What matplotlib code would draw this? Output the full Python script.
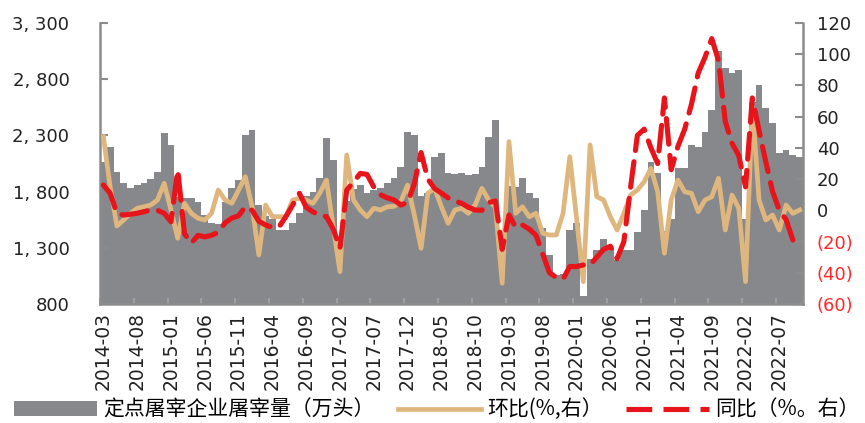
import numpy as np
import pandas as pd
import matplotlib
matplotlib.use('Agg')
import matplotlib.pyplot as plt
from matplotlib.lines import Line2D
from matplotlib.patches import Patch

plt.rcParams['font.family'] = ['DejaVu Sans', 'Noto Sans CJK SC']

# ---- data ----
months = pd.period_range('2014-03', periods=104, freq='M').strftime('%Y-%m').tolist()

# 定点屠宰企业屠宰量（万头）
volume = [2066, 2200, 1977, 1879, 1835, 1855, 1874, 1912, 1977, 2324,
          2215, 1750, 1743, 1740, 1710, 1592, 1520, 1510, 1710, 1830,
          1903, 2304, 2348, 1681, 1580, 1555, 1460, 1458, 1520, 1610,
          1757, 1799, 1918, 2277, 2081, 1280, 1720, 1820, 1859, 1788,
          1810, 1829, 1874, 1918, 2022, 2333, 2304, 1757, 1790, 2110,
          2140, 1968, 1960, 1968, 1948, 1960, 2022, 2289, 2437, 1320,
          1850, 1844, 1918, 1788, 1743, 1480, 1236, 1058, 1070, 1458,
          1518, 870, 1200, 1280, 1375, 1300, 1190, 1280, 1280, 1443,
          1636, 2066, 1963, 1450, 1560, 2007, 2010, 2215, 2200, 2333,
          2526, 3050, 2897, 2853, 2880, 1560, 2600, 2748, 2541, 2408,
          2140, 2170, 2126, 2110]

# 环比（%，右）
mom = [47.2, 15, -10, -6.2, -1.9, 1.3, 2.3, 3.4, 6.6, 17.3,
       0.2, -17.9, 4.5, -1.9, -5.1, -6.2, -1.9, 13, 6.6, 4.5,
       13, 21.5, 2.3, -28.6, 3.4, -4.1, -4.1, -4.1, 6.6, 7.7,
       6.6, 4.5, 10.9, 19.4, -10.5, -39.3, 35.5, 6.6, 0.2, -4.1,
       1.3, 0.2, 2.3, 2.5, 5.5, 16.2, -3, -24.3, 10.9, 14.1,
       2.3, -8.3, 0.2, 1.3, -1.9, 3.4, 14.1, 6.6, 2, -46.7,
       44, -1.9, 2.3, -4.1, -1.9, -14.7, -15.8, -15.8, -2, 34.4,
       -5, -45.7, 41.9, 8.7, 6.6, -4.1, -12.6, -1.9, 9.8, 13,
       18.3, 26.9, 11.9, -27.5, 6.6, 19.4, 11.9, 10.9, -0.9, 6.6,
       8.7, 20.5, -12.6, 9.8, 1.3, -45.7, 66.4, 6.6, -6.2, -3,
       -12.6, 3.4, -1.9, 0.2]

# 同比（%，右）
yoy = [16.2, 10.9, -1.9, -3, -2.5, -1.9, -0.9, 0.2, 0, -1.9,
       -7.3, 25.8, -15, -21, -16, -17, -16, -14, -8, -5,
       -3.5, 2.3, 0, -7, -9.4, -11, -10.5, -4, 3.4, 10.9,
       2, -1, -3, -4, -12, -24.3, 13, 18, 23.7, 23,
       15, 10, 8, 6.6, 3.4, 5, 17, 37, 20, 14,
       11, 8, 6, 4.5, 2, 0.2, 0, 5, 6, -25,
       -3, -11, -9.4, -12, -16, -28, -40, -43, -44, -36,
       -36, -35, -35, -30, -25, -23, -31, -20, 15, 48,
       52, 40, 30, 72, 26, 41, 52, 68, 88, 98,
       110, 96, 57, 43, 35, 15, 72, 51, 31, 12,
       0, -6, -19, np.nan]

left_ticks = [800, 1300, 1800, 2300, 2800, 3300]
right_ticks = [-60, -40, -20, 0, 20, 40, 60, 80, 100, 120]

bar_color = '#86888b'
mom_color = '#dfb77e'
yoy_color = '#e8141b'
axis_color = '#8c8c8c'

x = np.arange(len(months))

fig = plt.figure(figsize=(8.65, 4.23), dpi=100)
ax = fig.add_axes([100 / 865, 1 - 304 / 423, 703 / 865, 281 / 423])

ax.bar(x, volume, width=1.0, color=bar_color, linewidth=0, zorder=1)
ax.set_xlim(-0.5, len(months) - 0.5)
ax.set_ylim(800, 3300)
ax.set_yticks(left_ticks)
ax.set_yticklabels([f'{v:,}'.replace(',', ', ') for v in left_ticks])
ax.tick_params(axis='y', direction='in', length=6, width=1.5, color=axis_color,
               labelsize=13, pad=22, labelcolor='#222222')

# x labels every 5 months, boundary tick marks
lab_pos = x[::5]
ax.set_xticks(lab_pos)
ax.set_xticklabels([months[i] for i in lab_pos], rotation=90, fontsize=13.5, color='#222222')
ax.set_xticks(lab_pos - 0.5, minor=True)
ax.tick_params(axis='x', which='major', length=0, pad=6)
ax.tick_params(axis='x', which='minor', direction='in', length=4, width=1.2, color='#a5a5a5')

for s in ['top', 'right']:
    ax.spines[s].set_visible(False)
for s in ['left', 'bottom']:
    ax.spines[s].set_color(axis_color)
    ax.spines[s].set_linewidth(1.8)

ax2 = ax.twinx()
ax2.plot(x, mom, color=mom_color, lw=3.4, solid_joinstyle='round', zorder=3)
ax2.plot(x, yoy, color=yoy_color, lw=3.7, ls=(0, (5, 2.2)), dash_capstyle='round', zorder=4)
ax2.set_ylim(-60, 120)
ax2.set_yticks(right_ticks)
ax2.set_yticklabels([f'({-v})' if v < 0 else str(v) for v in right_ticks])
for t, v in zip(ax2.get_yticklabels(), right_ticks):
    t.set_color('#ff2a2a' if v < 0 else '#222222')
ax2.tick_params(axis='y', direction='in', length=6, width=1.5, color=axis_color,
                labelsize=13, pad=10)
for s in ['top', 'left', 'bottom']:
    ax2.spines[s].set_visible(False)
ax2.spines['right'].set_color(axis_color)
ax2.spines['right'].set_linewidth(1.8)

handles = [Patch(facecolor=bar_color, edgecolor='none'),
           Line2D([], [], color=mom_color, lw=3.4),
           Line2D([], [], color=yoy_color, lw=3.7, ls=(0, (5, 2.2)))]
labels = ['定点屠宰企业屠宰量（万头）', '环比(%,右）', '同比（%。右）']
fig.legend(handles, labels, loc='center', bbox_to_anchor=(0.505, 0.031), ncol=3,
           frameon=False, handlelength=4.0, handletextpad=0.3, columnspacing=1.1,
           borderpad=0.2, prop={'family': ['Noto Sans CJK SC', 'DejaVu Sans'], 'size': 15})

fig.savefig('out.png', dpi=100)
